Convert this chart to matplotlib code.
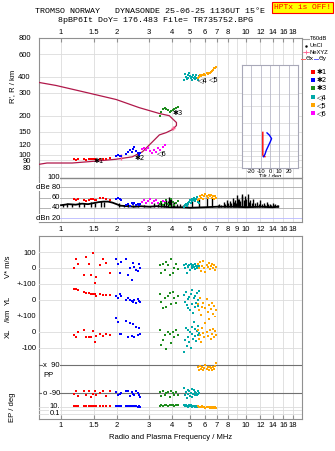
import numpy as np
import matplotlib.pyplot as plt

W, H = 335, 451
plt.rcParams['font.family'] = ['Liberation Sans', 'DejaVu Sans']
FS = 5.5

# frequency axis (MHz)
freq_ticks = [1, 1.5, 2, 3, 4, 5, 6, 7, 8, 10, 12, 14, 16, 18]
freq_ticks_mid = [1, 1.5, 2, 3, 4, 5, 6, 7, 8, 9, 10, 12, 14, 16, 18]
height_ticks = [80, 90, 100, 120, 150, 200, 300, 400, 600, 800]

# real height profile
prof_f = [0.76, 0.84, 0.94, 1.15, 1.55, 1.99, 2.43, 2.76, 3.12, 3.41, 3.72, 4.01, 4.22,
          4.22, 3.86, 3.41, 2.65, 1.99, 1.30, 0.94, 0.76]
prof_h = [84, 86, 86, 86, 89, 92, 96, 105, 125, 142, 148, 156, 168,
          177, 200, 208, 231, 267, 308, 343, 362]

# tilt
tilt_x_h = [158, 150, 140, 130, 120, 110, 100, 92, 89, 88]
tilt_x = [-7.7, -7.7, -7.7, -7.7, -7.7, -7.7, -7.7, -7.7, -7.2, -5.5]
tilt_y_h = [156, 148, 136, 126, 114, 103, 92, 88]
tilt_y = [-3.2, -0.7, 1.7, 0.3, -1.8, -3.9, -5.6, -7.0]

# echo clusters
red_f = [1.18, 1.21, 1.24, 1.33, 1.37, 1.41, 1.45, 1.49, 1.52, 1.55, 1.63, 1.68, 1.76, 1.84]
red_h = [93, 91, 92, 92, 91, 93, 92, 92, 93, 91, 93, 92, 93, 94]
red_db = [57, 55, 58, 56, 54, 55, 57, 58, 55, 56, 60, 59, 58, 56]
red_v = [0, 56, 25, -44, 69, 25, -44, 94, -94, -56, 19, 56, 31, -31]
red_yl = [69, 69, 62, 50, 44, 44, 37, 37, 37, 25, 37, 31, 31, 31]
red_xl = [-19, -31, 0, 12, -31, -31, -31, 6, -62, -25, -12, -25, -12, -19]
red_pp = [-95, -75, -110, -80, -100, -75, -115, -95, -80, -105, -90, -75, -110, -80]
red_ep = [18, 20, 18, 19, 18, 20, 19, 18, 20, 19, 18, 19, 20, 18]

blue_f = [1.99, 2.03, 2.08, 2.12, 2.26, 2.32, 2.37, 2.42, 2.46, 2.5, 2.55, 2.6, 2.64, 2.68]
blue_h = [98, 99, 97, 98, 101, 104, 108, 105, 111, 114, 107, 103, 100, 102]
blue_db = [58, 60, 57, 55, 46, 48, 44, 49, 47, 50, 46, 48, 45, 47]
blue_v = [56, 25, -31, 37, 56, -44, 0, -75, 31, 6, -12, -19, 25, 0]
blue_yl = [25, 12, 37, 25, 0, 12, 0, -6, -12, 0, -19, 6, -6, -12]
blue_xl = [87, 62, -12, -12, 69, -31, 56, -25, 50, -31, 31, -19, 25, -12]
blue_pp = [-85, -100, -95, -90, -75, -80, -110, -85, -95, -100, -80, -90, -105, -115]
blue_ep = [18, 17, 19, 18, 16, 15, 18, 14, 16, 15, 14, 13, 15, 12]

mag_f = [2.75, 2.82, 2.88, 2.95, 3.02, 3.1, 3.18, 3.26, 3.35, 3.45, 3.55, 3.68]
mag_h = [110, 113, 108, 112, 106, 103, 109, 104, 112, 108, 115, 118]
mag_db = [52, 55, 50, 53, 57, 49, 54, 56, 50, 48, 53, 51]

green_f = [3.45, 3.5, 3.58, 3.65, 3.72, 3.8, 3.88, 3.95, 4.02, 4.1, 4.18, 4.28]
green_h = [200, 212, 225, 228, 226, 222, 215, 218, 222, 226, 230, 235]
green_db = [48, 52, 45, 50, 55, 47, 44, 58, 52, 46, 50, 54]
green_v = [19, -31, 25, -12, 37, 19, -44, 56, -31, 0, 25, -6]
green_yl = [37, -12, -50, 12, -44, 25, 44, -25, 50, 12, -19, 25]
green_xl = [12, -81, -50, -19, -106, 0, -12, -69, 0, -31, 12, -19]
green_pp = [-85, -110, -80, -100, -90, -85, -115, -80, -90, -100, -85, -105]
green_ep = [25, 28, 26, 30, 27, 25, 29, 31, 27, 26, 30, 28]

cyan_f = [4.65, 4.7, 4.75, 4.8, 4.85, 4.9, 4.95, 5.0, 5.05, 5.1,
          5.15, 5.2, 5.25, 5.3, 5.35, 5.4, 5.45, 5.5, 5.55, 5.6]
cyan_h = [380, 420, 400, 385, 410, 395, 430, 405, 390, 375,
          400, 415, 395, 385, 400, 410, 390, 380, 395, 405]
cyan_db = [42, 45, 48, 44, 50, 47, 52, 55, 50, 53, 58, 56, 60, 57, 54, 58, 61, 55, 52, 50]
cyan_v = [19, 0, 25, -31, 12, 6, 19, -12, 25, 0, 12, 19, 6, -6, 25, 12, 0, 19, 6, 12]
cyan_yl = [31, -12, 50, -31, 6, -50, 19, -62, 37, -25, 62, -81, 12, -44, 25, -19, 44, 0, -37, 56]
cyan_xl = [-125, -50, 25, -87, -31, 12, -62, 0, -100, 31, -12, -44, 62, -25, 19, -56, 6, -19, 37, -6]
cyan_pp = [-60, -100, -85, -120, -70, -95, -75, -110, -90, -115, -65, -95, -70, -100, -85, -90, -105, -80, -95, -88]
cyan_ep = [30, 20, 35, 15, 25, 12, 28, 18, 32, 10, 22, 14, 26, 9, 20, 12, 16, 8, 14, 10]

orange_f = [5.5, 5.58, 5.66, 5.74, 5.82, 5.9, 5.98, 6.06, 6.14,
            6.22, 6.3, 6.38, 6.46, 6.54, 6.62, 6.7, 6.8, 6.9]
orange_h = [395, 400, 410, 405, 415, 410, 420, 415, 425,
            420, 430, 425, 440, 445, 455, 465, 470, 480]
orange_db = [55, 58, 62, 60, 64, 58, 62, 66, 63, 60, 64, 62, 65, 60, 63, 58, 62, 60]
orange_v = [25, 0, 37, -19, 12, 44, 0, -25, 19, 6, 31, -6, 12, 25, 0, 19, -12, 6]
orange_yl = [-25, -62, 12, -94, -44, -19, -112, -50, 6, -75, -31, -125, -56, -19, -87, -37, -106, -62]
orange_xl = [12, -44, -19, -62, 25, -6, -31, 56, 0, -25, 81, 12, -44, -12, 19, -31, 6, -19]
orange_pp = [75, 60, 85, 65, 80, 58, 70, 90, 65, 75, 60, 80, 70, 58, 75, 65, 85, 100]
orange_ep = [15, 10, 12, 8, 14, 9, 11, 7, 13, 8, 10, 6, 12, 7, 9, 5, 8, 6]

# noise trace dBe
noise_f = [1.0, 1.1, 1.2, 1.3, 1.4, 1.5, 1.6, 1.7, 1.8, 1.9, 2.0, 2.1, 2.3, 2.5, 2.7, 3.0,
           3.3, 3.6, 4.0, 4.5, 5.0, 6.0, 7.0, 8.0, 9.0, 10.0, 12.0, 14.0, 15.0]
noise_db = [45, 47, 46, 48, 47, 49, 51, 52, 52, 50, 47, 44, 43, 42, 43, 42,
            43, 42, 41, 41, 40, 41, 42, 42, 42, 41, 42, 41, 42]
spike_f = [1.03, 1.08, 1.14, 1.25, 1.33, 1.45, 1.52, 1.65, 1.72, 2.05, 2.2, 2.3, 2.45, 2.6,
           2.8, 3.05, 3.2, 3.35, 3.5, 3.6, 3.7, 3.78, 3.85, 3.9, 3.95, 4.05, 4.1, 4.25, 4.4,
           4.6, 4.8, 5.1, 5.6, 6.2, 6.6, 7.05, 7.2, 7.4, 7.6, 7.75, 7.9, 8.05, 8.2, 8.35, 8.5,
           8.65, 8.8, 8.9, 9.0, 9.1, 9.2, 9.35, 9.5, 9.6, 9.75, 9.9, 10.1, 10.3, 10.45, 10.6,
           10.8, 11.0, 11.2, 11.5, 11.8, 12.0, 12.3, 12.5, 12.8, 13.0, 13.3, 13.5, 13.8,
           14.0, 14.3, 14.5, 14.8, 15.0]
spike_db = [48, 50, 47, 51, 49, 52, 50, 54, 51, 49, 46, 48, 45, 47,
            46, 44, 50, 47, 52, 49, 56, 53, 61, 57, 58, 50, 52, 47, 48,
            45, 50, 55, 58, 62, 60, 46, 48, 45, 52, 47, 56, 50, 53, 49, 60,
            52, 55, 50, 65, 57, 58, 54, 62, 66, 55, 63, 58, 66, 52, 55,
            50, 58, 49, 52, 47, 55, 48, 50, 46, 52, 47, 48, 46,
            49, 45, 47, 45, 46]

# labels of the echo traces
trace_lab = ['✱1', '✱2', '◁6', '✱3', '◁4', '◁5']
trace_lab_f = [1.51, 2.49, 3.32, 4.0, 5.55, 6.37]
trace_lab_h = [89, 94, 103, 210, 375, 386]

c_red, c_blue, c_green = '#ff0000', '#0000ff', '#1e8c1e'
c_cyan, c_orange, c_mag = '#00a8a8', '#ffa500', '#ff00ff'
c_prof = '#b0184a'
c_grid = '#dcdcdc'
c_frame = '#909090'


def rect(x0, y0, x1, y1):
    return [x0 / W, 1 - y1 / H, (x1 - x0) / W, (y1 - y0) / H]


def freq_axis(ax):
    ax.set_xscale('log')
    ax.set_xlim(0.76, 20.2)
    ax.xaxis.set_minor_locator(plt.NullLocator())
    ax.set_xticks(freq_ticks_mid)
    ax.set_xticklabels([])
    for f in freq_ticks_mid:
        ax.axvline(f, color=c_grid, lw=0.6, zorder=0)
    for s in ax.spines.values():
        s.set_color(c_frame)
    ax.tick_params(which='both', direction='in', length=3, color=c_frame, labelsize=FS, pad=2)


def set_freq_labels(ax, ticks, pad):
    ax.set_xticks(ticks)
    ax.set_xticklabels([('%g' % t) for t in ticks])
    ax.tick_params(axis='x', pad=pad)


fig = plt.figure(figsize=(W / 100, H / 100), dpi=100)

# ---- top panel: heights
ax1 = fig.add_axes(rect(39, 38, 302, 177))
freq_axis(ax1)
ax1.spines['bottom'].set_visible(False)
ax1.set_yscale('log')
ax1.set_ylim(67, 800)
ax1.yaxis.set_minor_locator(plt.NullLocator())
ax1.set_yticks(height_ticks)
ax1.set_yticklabels([str(h) for h in height_ticks])
for h in height_ticks:
    ax1.axhline(h, color=c_grid, lw=0.6, zorder=0)
ax1.xaxis.tick_top()
set_freq_labels(ax1, freq_ticks, 1.5)
ax1.tick_params(axis='y', length=0, pad=6)
ax1.plot(prof_f, prof_h, color=c_prof, lw=0.9, zorder=3)
ax1.plot([2.12], [95], marker='|', color='#ff6090', ms=4, zorder=4)
ax1.plot([4.05], [160], marker='+', color='#ff6090', ms=3, zorder=4)
ms = 1.7
for f, h, c in [(red_f, red_h, c_red), (blue_f, blue_h, c_blue), (mag_f, mag_h, c_mag),
                (green_f, green_h, c_green), (cyan_f, cyan_h, c_cyan), (orange_f, orange_h, c_orange)]:
    ax1.plot(f, h, 's', color=c, ms=ms, mew=0, zorder=4)
for t, f, h in zip(trace_lab, trace_lab_f, trace_lab_h):
    ax1.text(f, h, t, fontsize=5, ha='left', va='center', family=['DejaVu Sans'], zorder=5)
ax1.text(-0.1, 0.655, "R', R / km", transform=ax1.transAxes, rotation=90,
         ha='center', va='center', fontsize=FS)

# inset tilt
axt = fig.add_axes(rect(242, 65, 298, 168))
axt.set_yscale('log')
axt.set_ylim(67, 800)
axt.set_xlim(-30, 30)
axt.set_yticks([])
axt.yaxis.set_minor_locator(plt.NullLocator())
for h in height_ticks:
    axt.axhline(h, color=c_grid, lw=0.6, zorder=0)
for x in [-20, -10, 0, 10, 20]:
    axt.axvline(x, color='#b8b8c8', lw=0.6, zorder=0)
axt.set_xticks([-20, -10, 0, 10, 20])
axt.set_xticklabels(['-20', '-10', '0', '10', '20'])
axt.tick_params(axis='x', length=0, labelsize=4.2, pad=1)
axt.set_xlabel('Tilt / deg', fontsize=4.2, labelpad=0)
for s in axt.spines.values():
    s.set_color('#a8a8b8')
axt.plot(tilt_x, tilt_x_h, color=c_red, lw=1)
axt.plot(tilt_y, tilt_y_h, color=c_blue, lw=1)

# ---- dBe panel
ax2 = fig.add_axes(rect(39, 177, 302, 222))
freq_axis(ax2)
ax2.spines['top'].set_visible(False)
ax2.set_ylim(12.2, 100)
ax2.set_yticks([])
set_freq_labels(ax2, freq_ticks_mid, 3)
ax2.tick_params(axis='x', length=0)
ax2.axhline(98.8, xmin=0.075, color='#888888', lw=1.0, zorder=1)
for v in [80, 60, 40]:
    ax2.axhline(v, color='#a8a8a8', lw=0.6, zorder=0)
ax2.axhline(20, color='#b8b8ff', lw=0.6, zorder=0)
for txt, v in [('100', 98.8), ('dBe 80', 80), ('60', 60), ('40', 40), ('dBn 20', 20)]:
    ax2.text(0.985, v, txt, ha='right', va='center', fontsize=FS, zorder=3,
             bbox=dict(facecolor='white', edgecolor='none', pad=0.3))
ax2.plot(noise_f, noise_db, color='black', lw=1.3, zorder=2)
ax2.vlines(spike_f, 41, spike_db, color='black', lw=1.0, zorder=2)
for f, d, c in [(red_f, red_db, c_red), (blue_f, blue_db, c_blue), (mag_f, mag_db, c_mag),
                (green_f, green_db, c_green), (cyan_f, cyan_db, c_cyan), (orange_f, orange_db, c_orange)]:
    ax2.plot(f, d, 's', color=c, ms=ms, mew=0, zorder=4)

# ---- bottom panel frame
ax3 = fig.add_axes(rect(39, 236, 302, 419))
freq_axis(ax3)
ax3.set_ylim(0, 1)
ax3.set_yticks([])
set_freq_labels(ax3, freq_ticks, 2)

rows = {}
row_specs = [('v', 236, 284, (-100, 200)), ('yl', 284, 316, (-100, 100)),
             ('xl', 316, 355, (-144, 100)), ('pp', 355, 400, (-135, 154.3)),
             ('ep', 400, 419, None)]
for name, y0, y1, lim in row_specs:
    a = fig.add_axes(rect(39, y0, 302, y1))
    a.set_xscale('log')
    a.set_xlim(0.76, 20.2)
    a.set_xticks([])
    a.xaxis.set_minor_locator(plt.NullLocator())
    a.patch.set_alpha(0)
    for s in a.spines.values():
        s.set_visible(False)
    if lim is None:
        a.set_yscale('log')
        a.set_ylim(0.0037, 1000)
    else:
        a.set_ylim(*lim)
    a.yaxis.set_minor_locator(plt.NullLocator())
    a.tick_params(axis='y', length=0, labelsize=FS, pad=2)
    rows[name] = a

rows['v'].set_yticks([100, 0])
rows['v'].set_yticklabels(['100', '0'])
rows['yl'].set_yticks([100, 0, -100])
rows['yl'].set_yticklabels(['+-100', '0', '+-100'])
rows['xl'].set_yticks([0, -100])
rows['xl'].set_yticklabels(['0', '-100'])
rows['pp'].set_yticks([])
rows['ep'].set_yticks([])
for name, vals in [('v', [100, 0]), ('yl', [100, 0, -100]), ('xl', [0, -100])]:
    for v in vals:
        rows[name].axhline(v, color=c_grid, lw=0.6, zorder=0)
for v in [90, -90]:
    rows['pp'].axhline(v, color='#707070', lw=0.8, zorder=0)
for v in [10, 1, 0.1]:
    rows['ep'].axhline(v, color=c_grid, lw=0.6, zorder=0)
for txt, v in [('x  90', 90), ('o -90', -90)]:
    rows['pp'].text(0.985, v, txt, ha='right', va='center', fontsize=FS, zorder=3,
                    bbox=dict(facecolor='white', edgecolor='none', pad=0.3))
for txt, v in [('10.', 10), ('0.1', 0.1)]:
    rows['ep'].text(0.985, v, txt, ha='right', va='center', fontsize=FS, zorder=3,
                    bbox=dict(facecolor='white', edgecolor='none', pad=0.1))
rows['pp'].text(0.8, 20, 'PP', ha='left', va='center', fontsize=FS)

clusters = [(red_f, red_v, red_yl, red_xl, red_pp, red_ep, c_red),
            (blue_f, blue_v, blue_yl, blue_xl, blue_pp, blue_ep, c_blue),
            (green_f, green_v, green_yl, green_xl, green_pp, green_ep, c_green),
            (cyan_f, cyan_v, cyan_yl, cyan_xl, cyan_pp, cyan_ep, c_cyan),
            (orange_f, orange_v, orange_yl, orange_xl, orange_pp, orange_ep, c_orange)]
for f, v, yl, xl, pp, ep, c in clusters:
    rows['v'].plot(f, v, 's', color=c, ms=ms, mew=0)
    rows['yl'].plot(f, yl, 's', color=c, ms=ms, mew=0)
    rows['xl'].plot(f, xl, 's', color=c, ms=ms, mew=0)
    rows['pp'].plot(f, pp, 's', color=c, ms=ms, mew=0)
    rows['ep'].plot(f, ep, 's', color=c, ms=ms, mew=0)

ax3.set_xlabel('Radio and Plasma Frequency / MHz', fontsize=FS, labelpad=4)

# ---- overlay: titles, legend, row labels
ov = fig.add_axes([0, 0, 1, 1])
ov.set_xlim(0, W)
ov.set_ylim(H, 0)
ov.axis('off')
ov.patch.set_alpha(0)
ov.text(150, 11.5, 'TROMSO NORWAY   DYNASONDE 25-06-25 1136UT 15°E', ha='center', va='center',
        family='Liberation Mono', fontsize=6.0)
ov.text(156, 20, '8pBP6It DoY= 176.483 File= TR735752.BPG', ha='center', va='center',
        family='Liberation Mono', fontsize=6.0)
ov.text(302.5, 7.5, 'HPTx is OFF!', ha='center', va='center', family='Liberation Mono',
        fontsize=5.8, color='red',
        bbox=dict(facecolor='#ffff00', edgecolor='red', pad=1.2, lw=0.8))

lfs = 4.2
ov.plot([303, 309], [39, 39], color='#a0a0a0', lw=0.8)
ov.text(310, 39, 'T60dB', fontsize=lfs, va='center')
ov.plot([306], [45.5], '.', color='black', ms=1.5)
ov.text(310, 45.5, 'UnCl', fontsize=lfs, va='center')
ov.plot([303, 309], [52, 52], color='#ff80a0', lw=0.6)
ov.plot([306], [52], '+', color='#ff6090', ms=3, mew=0.6)
ov.text(310, 52, 'NeXYZ', fontsize=lfs, va='center')
ov.plot([301, 305], [58.5, 58.5], color='#ff6060', lw=0.7)
ov.text(305.5, 58.5, 'Θx', fontsize=lfs, va='center', family=['DejaVu Sans'])
ov.plot([314, 318], [58.5, 58.5], color='#6060ff', lw=0.7)
ov.text(318.5, 58.5, 'Θy', fontsize=lfs, va='center', family=['DejaVu Sans'])
leg_lab = ['✱1', '✱2', '✱3', '◁4', '◁5', '◁6']
leg_col = [c_red, c_blue, c_green, c_cyan, c_orange, c_mag]
leg_y = [72, 80, 88, 97, 105, 113]
for lab, c, y in zip(leg_lab, leg_col, leg_y):
    ov.plot([313], [y], 's', color=c, ms=2.2, mew=0)
    ov.text(317, y, lab, fontsize=5, va='center', family=['DejaVu Sans'])

ov.text(9, 267, 'V* m/s', rotation=90, ha='center', va='center', fontsize=FS)
ov.text(8, 300, 'YL', rotation=90, ha='center', va='center', fontsize=FS)
ov.text(8, 316, '/km', rotation=90, ha='center', va='center', fontsize=FS)
ov.text(8, 333, 'XL', rotation=90, ha='center', va='center', fontsize=FS)
ov.text(12, 407, 'EP / deg', rotation=90, ha='center', va='center', fontsize=FS)

fig.savefig('out.png', dpi=100)
